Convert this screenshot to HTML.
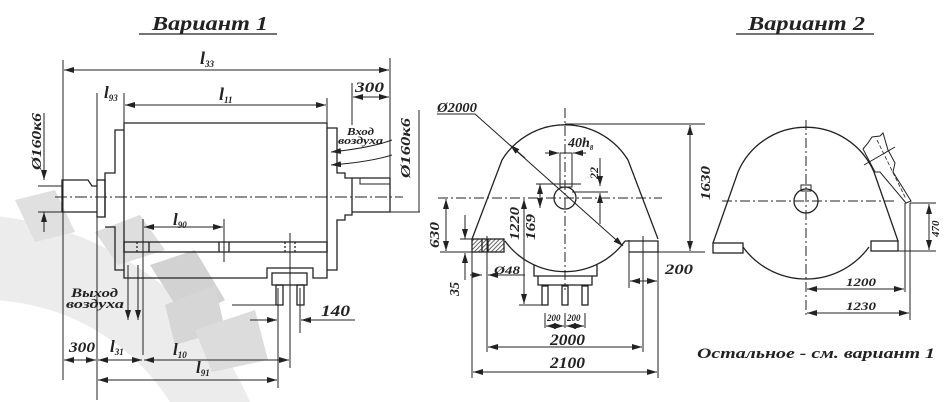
<!DOCTYPE html>
<html><head><meta charset="utf-8"><style>
html,body{margin:0;padding:0;background:#fff;}
svg{display:block;}
text{font-family:"Liberation Serif",serif;font-weight:bold;font-style:italic;fill:#222;}
</style></head><body>
<svg width="944" height="402" viewBox="0 0 944 402" xmlns="http://www.w3.org/2000/svg">
<defs>
<marker id="a" markerWidth="10" markerHeight="6" refX="10" refY="3" orient="auto-start-reverse" markerUnits="userSpaceOnUse"><path d="M0,0 L10,3 L0,6 Z" fill="#222"/></marker>
<pattern id="h" width="3" height="3" patternUnits="userSpaceOnUse" patternTransform="rotate(45)"><rect width="3" height="3" fill="#fff"/><line x1="0" y1="0" x2="0" y2="3" stroke="#333" stroke-width="1.5"/></pattern>
</defs>
<!-- watermark gear -->
<g>
<path d="M-20,215 A310,310 0 0 1 250,402 L170,402 A220,220 0 0 0 -20,300 Z" fill="#ececec"/>
<path d="M15,200 L55,190 L75,232 L35,242 Z" fill="#e0e0e0"/>
<path d="M95,232 L140,215 L165,250 L118,265 Z" fill="#dedede"/>
<path d="M150,265 L195,250 L225,300 L185,320 Z" fill="#d2d2d2"/>
<path d="M165,305 L215,285 L225,330 L175,345 Z" fill="#d6d6d6"/>
<path d="M195,330 L255,310 L268,360 L212,372 Z" fill="#dcdcdc"/>
</g>
<g stroke="#222" stroke-width="1.3" fill="none">
<!-- Variant 1 -->
<line x1="139" y1="34" x2="277" y2="34"/>
<line x1="55" y1="197" x2="403" y2="197" stroke-dasharray="12,3,2,3" stroke-width="1"/>
<path d="M62,212 L62,180 L88,180 L92,186 L97,186"/>
<line x1="62" y1="212" x2="97" y2="212"/>
<rect x="97" y="180" width="8" height="37"/>
<path d="M105,217 L105,173 L115,173 L115,130 L124,130"/>
<path d="M105,227 L115,227 L115,270 L124,270"/>
<path d="M124,123 L327,123 L327,278 L313,278 L313,268 L267,268 L267,278 L124,278 Z"/>
<rect x="124" y="242" width="203" height="10"/>
<line x1="137" y1="242" x2="137" y2="252" stroke-dasharray="2,2"/>
<line x1="149" y1="242" x2="149" y2="252"/>
<line x1="219" y1="242" x2="219" y2="252"/><line x1="229" y1="242" x2="229" y2="252"/>
<line x1="285" y1="242" x2="285" y2="252" stroke-dasharray="2,2"/><line x1="295" y1="242" x2="295" y2="252" stroke-dasharray="2,2"/>
<path d="M327,128 L337,128 L337,173 L345,173 L345,178 L352,178 L352,215 L345,215 L345,220 L337,220 L337,270 L327,270"/>
<path d="M352,178 L390,178 L390,212 L352,212"/>
<path d="M360,178 L360,184 L390,184" stroke-width="1"/>
<rect x="272" y="273" width="35" height="12"/>
<rect x="276" y="285" width="7" height="20"/>
<rect x="297" y="285" width="7" height="20"/>
<line x1="232" y1="305" x2="283" y2="305" stroke-width="1"/>
<line x1="63" y1="60" x2="63" y2="380" stroke-width="1"/>
<line x1="390" y1="58" x2="390" y2="212" stroke-width="1"/>
<line x1="64" y1="70" x2="389" y2="70" marker-start="url(#a)" marker-end="url(#a)" stroke-width="1"/>
<line x1="97" y1="93" x2="97" y2="400" stroke-width="1"/>
<line x1="124" y1="93" x2="124" y2="123" stroke-width="1"/>
<line x1="327" y1="98" x2="327" y2="123" stroke-width="1"/>
<line x1="125" y1="105" x2="326" y2="105" marker-start="url(#a)" marker-end="url(#a)" stroke-width="1"/>
<line x1="352" y1="83" x2="352" y2="125" stroke-width="1"/>
<line x1="353" y1="97" x2="389" y2="97" marker-start="url(#a)" marker-end="url(#a)" stroke-width="1"/>
<line x1="44" y1="113" x2="44" y2="180" marker-end="url(#a)" stroke-width="1"/>
<line x1="44" y1="232" x2="44" y2="212" marker-end="url(#a)" stroke-width="1"/>
<line x1="38" y1="186" x2="62" y2="186" stroke-width="1"/>
<line x1="38" y1="212" x2="62" y2="212" stroke-width="1"/>
<line x1="390" y1="212" x2="420" y2="212" stroke-width="1"/>
<line x1="419" y1="110" x2="419" y2="212" stroke-width="1"/>
<path d="M392,140 Q370,148 331,152" marker-end="url(#a)" stroke-width="1"/>
<path d="M392,155 Q370,162 331,165" marker-end="url(#a)" stroke-width="1"/>
<line x1="128" y1="265" x2="128" y2="320" marker-end="url(#a)" stroke-width="1"/>
<line x1="138" y1="265" x2="138" y2="320" marker-end="url(#a)" stroke-width="1"/>
<line x1="143" y1="219" x2="143" y2="355" stroke-width="1"/>
<line x1="224" y1="219" x2="224" y2="262" stroke-width="1"/>
<line x1="144" y1="227" x2="223" y2="227" marker-start="url(#a)" marker-end="url(#a)" stroke-width="1"/>
<line x1="290" y1="233" x2="290" y2="368" stroke-width="1"/>
<line x1="278" y1="288" x2="278" y2="388" stroke-width="1"/>
<line x1="300" y1="288" x2="300" y2="333" stroke-width="1"/>
<line x1="250" y1="320" x2="277" y2="320" marker-end="url(#a)" stroke-width="1"/>
<line x1="355" y1="320" x2="301" y2="320" marker-end="url(#a)" stroke-width="1"/>
<line x1="64" y1="360" x2="96" y2="360" marker-start="url(#a)" marker-end="url(#a)" stroke-width="1"/>
<line x1="98" y1="360" x2="142" y2="360" marker-start="url(#a)" marker-end="url(#a)" stroke-width="1"/>
<line x1="144" y1="360" x2="289" y2="360" marker-start="url(#a)" marker-end="url(#a)" stroke-width="1"/>
<line x1="98" y1="380" x2="277" y2="380" marker-start="url(#a)" marker-end="url(#a)" stroke-width="1"/>

<!-- Front view -->
<line x1="565" y1="108" x2="565" y2="290" stroke-dasharray="10,3,2,3" stroke-width="1"/>
<line x1="438" y1="198" x2="662" y2="198" stroke-dasharray="10,3,2,3" stroke-width="1"/>
<path d="M472,239 L502,160 A74,74 0 0 1 628,160 L658,239"/>
<path d="M505,241 A74,74 0 0 0 625,241"/>
<rect x="472" y="239" width="32" height="13" fill="url(#h)"/>
<line x1="482" y1="239" x2="482" y2="252"/><line x1="488" y1="239" x2="488" y2="252"/>
<path d="M625,241 L658,241 L658,252 L629,252"/>
<circle cx="565" cy="198" r="11"/>
<rect x="560" y="153" width="12" height="34" stroke-width="1"/>
<path d="M534,265 L534,276 L597,276 L597,265"/>
<path d="M538,276 L538,285 L592,285 L592,276"/>
<rect x="542" y="286" width="6" height="19"/><rect x="562" y="286" width="6" height="19"/><rect x="582" y="286" width="6" height="19"/>
<line x1="565" y1="124" x2="705" y2="124" stroke-width="1"/>
<line x1="629" y1="252" x2="705" y2="252" stroke-width="1"/>
<line x1="690" y1="125" x2="690" y2="251" marker-start="url(#a)" marker-end="url(#a)" stroke-width="1"/>
<line x1="472" y1="252" x2="472" y2="378" stroke-width="1"/>
<line x1="658" y1="252" x2="658" y2="378" stroke-width="1"/>
<line x1="487" y1="236" x2="487" y2="352" stroke-width="1"/>
<line x1="643" y1="236" x2="643" y2="352" stroke-width="1"/>
<line x1="629" y1="240" x2="629" y2="288" stroke-width="1"/>
<line x1="488" y1="347" x2="642" y2="347" marker-start="url(#a)" marker-end="url(#a)" stroke-width="1"/>
<line x1="473" y1="372" x2="657" y2="372" marker-start="url(#a)" marker-end="url(#a)" stroke-width="1"/>
<line x1="630" y1="281" x2="657" y2="281" marker-start="url(#a)" marker-end="url(#a)" stroke-width="1"/>
<line x1="446" y1="199" x2="446" y2="251" marker-start="url(#a)" marker-end="url(#a)" stroke-width="1"/>
<line x1="440" y1="252" x2="472" y2="252" stroke-width="1"/>
<line x1="465" y1="215" x2="465" y2="239" marker-end="url(#a)" stroke-width="1"/>
<line x1="465" y1="280" x2="465" y2="253" marker-end="url(#a)" stroke-width="1"/>
<line x1="460" y1="239" x2="472" y2="239" stroke-width="1"/>
<line x1="470" y1="275" x2="482" y2="275" marker-end="url(#a)" stroke-width="1"/>
<line x1="500" y1="275" x2="488" y2="275" marker-end="url(#a)" stroke-width="1"/>
<line x1="488" y1="275" x2="525" y2="275" stroke-width="1"/>
<line x1="524" y1="199" x2="524" y2="304" marker-start="url(#a)" marker-end="url(#a)" stroke-width="1"/>
<line x1="519" y1="305" x2="542" y2="305" stroke-width="1"/>
<line x1="540" y1="184" x2="540" y2="208" marker-start="url(#a)" marker-end="url(#a)" stroke-width="1"/>
<line x1="536" y1="184" x2="581" y2="184" stroke-width="1"/>
<line x1="600" y1="158" x2="600" y2="186" marker-end="url(#a)" stroke-width="1"/>
<line x1="600" y1="224" x2="600" y2="193" marker-end="url(#a)" stroke-width="1"/>
<line x1="572" y1="192" x2="608" y2="192" stroke-width="1"/>
<line x1="545" y1="153" x2="559" y2="153" marker-end="url(#a)" stroke-width="1"/>
<line x1="586" y1="153" x2="573" y2="153" marker-end="url(#a)" stroke-width="1"/>
<line x1="545" y1="313" x2="545" y2="328" stroke-width="1"/><line x1="565" y1="313" x2="565" y2="328" stroke-width="1"/><line x1="585" y1="313" x2="585" y2="328" stroke-width="1"/>
<line x1="546" y1="326" x2="564" y2="326" marker-start="url(#a)" marker-end="url(#a)" stroke-width="1"/>
<line x1="566" y1="326" x2="584" y2="326" marker-start="url(#a)" marker-end="url(#a)" stroke-width="1"/>
<path d="M437,114 L475,114 L623,246" marker-end="url(#a)" stroke-width="1"/>
<line x1="525" y1="158" x2="510" y2="145" marker-end="url(#a)" stroke-width="1"/>

<!-- Variant 2 -->
<line x1="736" y1="34" x2="874" y2="34"/>
<line x1="806" y1="120" x2="806" y2="318" stroke-dasharray="10,3,2,3" stroke-width="1"/>
<line x1="722" y1="201" x2="895" y2="201" stroke-dasharray="10,3,2,3" stroke-width="1"/>
<path d="M713,243 L738,172 A74,74 0 0 1 874,172 L898,241"/>
<path d="M743,247 A78,78 0 0 0 869,247"/>
<rect x="713" y="243" width="30" height="10"/>
<rect x="871" y="241" width="27" height="10"/>
<circle cx="806" cy="201" r="12"/>
<rect x="801" y="185" width="10" height="6" stroke-width="1"/>
<path d="M863,149 L868,143 L872,137 L880,136 L883,133 L888,150 L895,163 L893,172 L911,201 L906,203 L880,172 L875,172 Z" stroke-width="1" fill="#fff"/>
<line x1="864" y1="165" x2="895" y2="147" stroke-width="1"/>
<line x1="877" y1="140" x2="906" y2="199" stroke-dasharray="4,2" stroke-width="0.8"/>
<line x1="905" y1="203" x2="905" y2="292" stroke-width="1"/>
<line x1="910" y1="203" x2="910" y2="320" stroke-width="1"/>
<line x1="910" y1="203" x2="936" y2="203" stroke-width="1"/>
<line x1="898" y1="251" x2="936" y2="251" stroke-width="1"/>
<line x1="929" y1="204" x2="929" y2="250" marker-start="url(#a)" marker-end="url(#a)" stroke-width="1"/>
<line x1="807" y1="289" x2="904" y2="289" marker-start="url(#a)" marker-end="url(#a)" stroke-width="1"/>
<line x1="807" y1="313" x2="909" y2="313" marker-start="url(#a)" marker-end="url(#a)" stroke-width="1"/>
</g>
<!-- texts -->
<text x="152" y="30" font-size="20" textLength="116" lengthAdjust="spacingAndGlyphs">Вариант 1</text>
<text x="748" y="30" font-size="20" textLength="117" lengthAdjust="spacingAndGlyphs">Вариант 2</text>
<text x="200" y="64" font-size="18">l<tspan font-size="9" dy="3">33</tspan></text>
<text x="104" y="98" font-size="17">l<tspan font-size="9" dy="3">93</tspan></text>
<text x="219" y="100" font-size="18">l<tspan font-size="9" dy="3">11</tspan></text>
<text x="355" y="92" font-size="15" textLength="29" lengthAdjust="spacingAndGlyphs">300</text>
<text x="347" y="135" font-size="10" textLength="27" lengthAdjust="spacingAndGlyphs">Вход</text>
<text x="338" y="144" font-size="10" textLength="45" lengthAdjust="spacingAndGlyphs">воздуха</text>
<text x="173" y="225" font-size="17">l<tspan font-size="9" dy="3">90</tspan></text>
<text x="71" y="297" font-size="13" textLength="47" lengthAdjust="spacingAndGlyphs">Выход</text>
<text x="66" y="308" font-size="13" textLength="58" lengthAdjust="spacingAndGlyphs">воздуха</text>
<text x="321" y="316" font-size="16" textLength="29" lengthAdjust="spacingAndGlyphs">140</text>
<text x="69" y="352" font-size="15" textLength="26" lengthAdjust="spacingAndGlyphs">300</text>
<text x="110" y="352" font-size="17">l<tspan font-size="9" dy="3">31</tspan></text>
<text x="173" y="355" font-size="17">l<tspan font-size="9" dy="3">10</tspan></text>
<text x="196" y="373" font-size="17">l<tspan font-size="9" dy="3">91</tspan></text>
<text transform="translate(41,170) rotate(-90)" font-size="14" textLength="57" lengthAdjust="spacingAndGlyphs">Ø160к6</text>
<text transform="translate(410,178) rotate(-90)" font-size="14" textLength="60" lengthAdjust="spacingAndGlyphs">Ø160к6</text>
<text x="437" y="112" font-size="14" textLength="40" lengthAdjust="spacingAndGlyphs">Ø2000</text>
<text x="568" y="147" font-size="14">40h<tspan font-size="7" dy="3">8</tspan></text>
<text transform="translate(598,179) rotate(-90)" font-size="12">22</text>
<text transform="translate(710,200) rotate(-90)" font-size="14" textLength="34" lengthAdjust="spacingAndGlyphs">1630</text>
<text transform="translate(439,248) rotate(-90)" font-size="14" textLength="26" lengthAdjust="spacingAndGlyphs">630</text>
<text transform="translate(519,240) rotate(-90)" font-size="14" textLength="33" lengthAdjust="spacingAndGlyphs">1220</text>
<text transform="translate(535,240) rotate(-90)" font-size="14" textLength="26" lengthAdjust="spacingAndGlyphs">169</text>
<text transform="translate(459,296) rotate(-90)" font-size="14">35</text>
<text x="494" y="274" font-size="12" textLength="26" lengthAdjust="spacingAndGlyphs">Ø48</text>
<text x="665" y="274" font-size="15" textLength="28" lengthAdjust="spacingAndGlyphs">200</text>
<text x="547" y="321" font-size="9">200</text>
<text x="567" y="321" font-size="9">200</text>
<text x="550" y="345" font-size="16" textLength="35" lengthAdjust="spacingAndGlyphs">2000</text>
<text x="550" y="368" font-size="16" textLength="35" lengthAdjust="spacingAndGlyphs">2100</text>
<text transform="translate(939,237) rotate(-90)" font-size="11">470</text>
<text x="846" y="286" font-size="12" textLength="30" lengthAdjust="spacingAndGlyphs">1200</text>
<text x="846" y="310" font-size="12" textLength="30" lengthAdjust="spacingAndGlyphs">1230</text>
<text x="697" y="358" font-size="15" textLength="238" lengthAdjust="spacingAndGlyphs">Остальное - см. вариант 1</text>
</svg>
</body></html>
